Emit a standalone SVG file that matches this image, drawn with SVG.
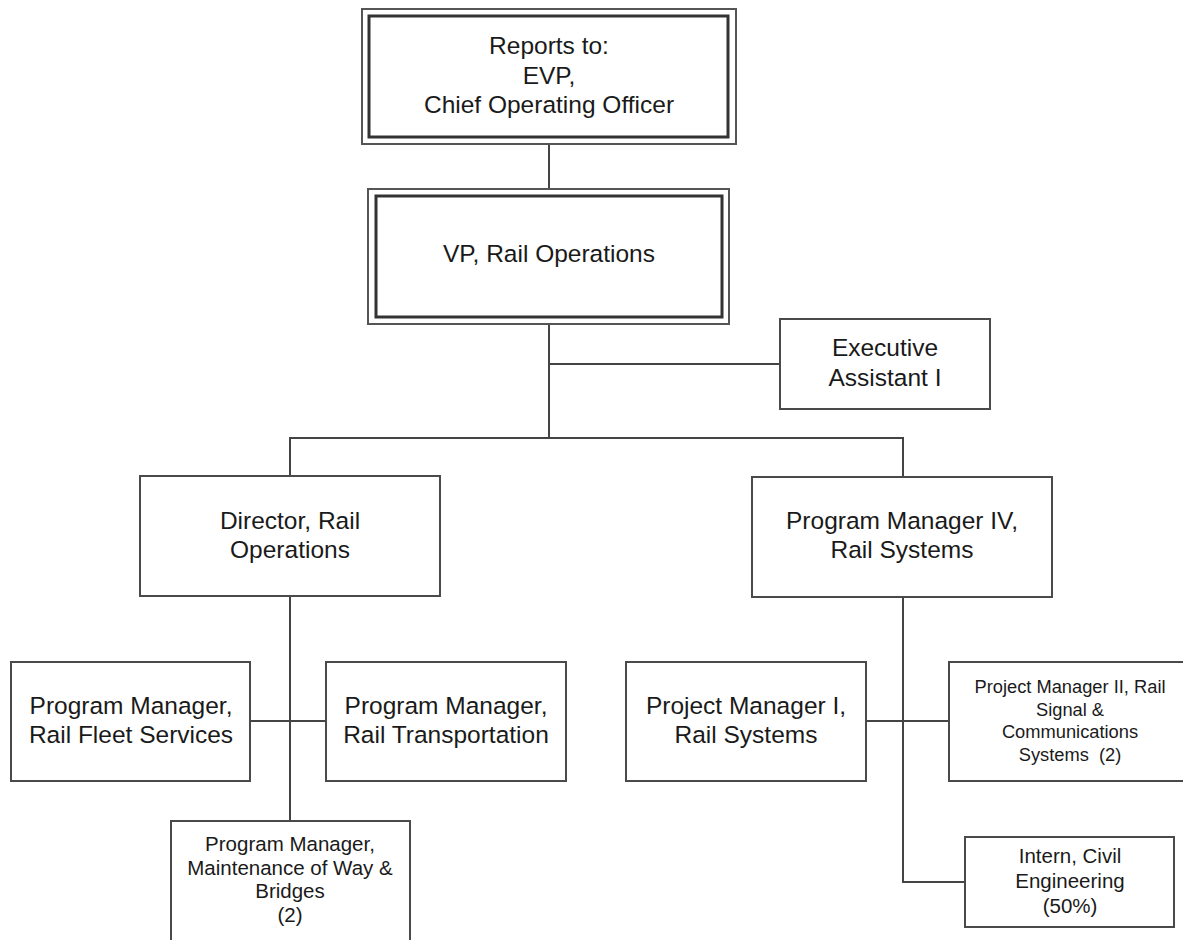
<svg xmlns="http://www.w3.org/2000/svg" width="1183" height="940" viewBox="0 0 1183 940">
  <style>
    .box { fill: #ffffff; stroke: #4a4a4a; stroke-width: 2; }
    .outer { fill: #ffffff; stroke: #555555; stroke-width: 2; }
    .inner { fill: none; stroke: #333333; stroke-width: 3; }
    .conn { fill: none; stroke: #444444; stroke-width: 2; }
    text { font-family: "Liberation Sans", Arial, sans-serif; fill: #1a1a1a; text-anchor: middle; }
    .lg { font-size: 24.5px; }
    .md { font-size: 20.5px; }
    .sm { font-size: 18.3px; }
  </style>

  <!-- connectors -->
  <g id="connectors">
    <path class="conn" d="M549,144 V189"/>
    <path class="conn" d="M549,324 V438"/>
    <path class="conn" d="M549,364 H780"/>
    <path class="conn" d="M290,476 V438 H903 V477"/>
    <path class="conn" d="M290,596 V821"/>
    <path class="conn" d="M250,721 H326"/>
    <path class="conn" d="M903,597 V882 H965"/>
    <path class="conn" d="M866,721 H949"/>
  </g>

  <g id="node-reports-to">
    <rect class="outer" x="362" y="9" width="374" height="135"/>
    <rect class="inner" x="369" y="16" width="359" height="121"/>
    <text class="lg" x="549" y="54">Reports to:</text>
    <text class="lg" x="549" y="84">EVP,</text>
    <text class="lg" x="549" y="113">Chief Operating Officer</text>
  </g>

  <g id="node-vp">
    <rect class="outer" x="368" y="189" width="361" height="135"/>
    <rect class="inner" x="376" y="196" width="346" height="121"/>
    <text class="lg" x="549" y="262">VP, Rail Operations</text>
  </g>

  <g id="node-exec-assistant">
    <rect class="box" x="780" y="319" width="210" height="90"/>
    <text class="lg" x="885" y="356">Executive</text>
    <text class="lg" x="885" y="386">Assistant I</text>
  </g>

  <g id="node-director">
    <rect class="box" x="140" y="476" width="300" height="120"/>
    <text class="lg" x="290" y="529">Director, Rail</text>
    <text class="lg" x="290" y="558">Operations</text>
  </g>

  <g id="node-pm-iv">
    <rect class="box" x="752" y="477" width="300" height="120"/>
    <text class="lg" x="902" y="529">Program Manager IV,</text>
    <text class="lg" x="902" y="558">Rail Systems</text>
  </g>

  <g id="node-fleet">
    <rect class="box" x="11" y="662" width="239" height="119"/>
    <text class="lg" x="131" y="714">Program Manager,</text>
    <text class="lg" x="131" y="743">Rail Fleet Services</text>
  </g>

  <g id="node-transportation">
    <rect class="box" x="326" y="662" width="240" height="119"/>
    <text class="lg" x="446" y="714">Program Manager,</text>
    <text class="lg" x="446" y="743">Rail Transportation</text>
  </g>

  <g id="node-maintenance">
    <rect class="box" x="171" y="821" width="239" height="130"/>
    <text class="md" x="290" y="851">Program Manager,</text>
    <text class="md" x="290" y="875">Maintenance of Way &amp;</text>
    <text class="md" x="290" y="898">Bridges</text>
    <text class="md" x="290" y="922">(2)</text>
  </g>

  <g id="node-project-mgr-i">
    <rect class="box" x="626" y="662" width="240" height="119"/>
    <text class="lg" x="746" y="714">Project Manager I,</text>
    <text class="lg" x="746" y="743">Rail Systems</text>
  </g>

  <g id="node-project-mgr-ii">
    <rect class="box" x="949" y="662" width="250" height="119"/>
    <text class="sm" x="1070" y="693">Project Manager II, Rail</text>
    <text class="sm" x="1070" y="716">Signal &amp;</text>
    <text class="sm" x="1070" y="738">Communications</text>
    <text class="sm" x="1070" y="761" xml:space="preserve">Systems  (2)</text>
  </g>

  <g id="node-intern">
    <rect class="box" x="965" y="837" width="209" height="90"/>
    <text class="md" x="1070" y="863">Intern, Civil</text>
    <text class="md" x="1070" y="888">Engineering</text>
    <text class="md" x="1070" y="913">(50%)</text>
  </g>
</svg>
